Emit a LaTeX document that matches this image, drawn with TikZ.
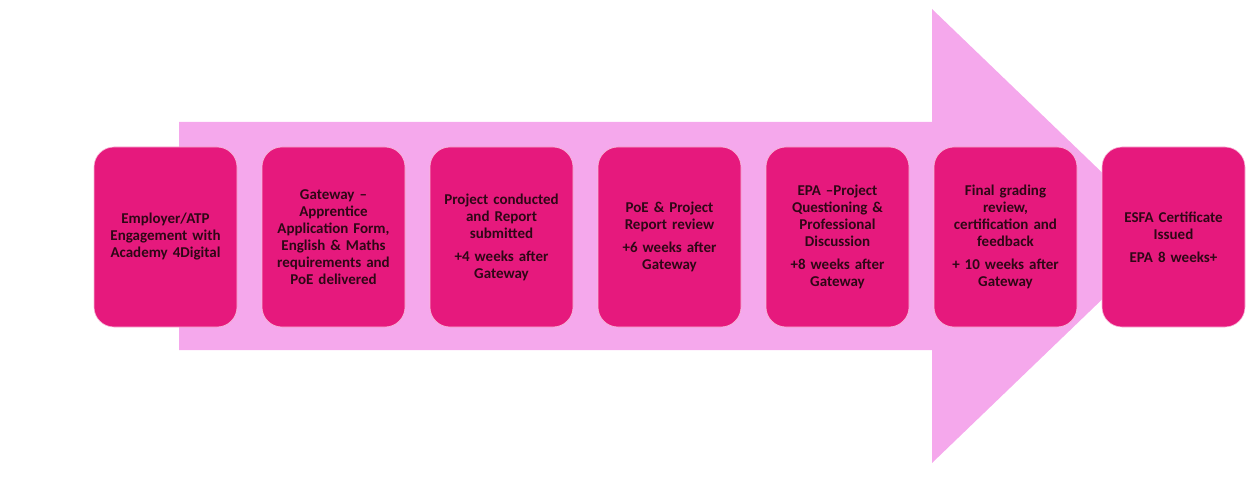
\documentclass[tikz,border=0pt]{standalone}
\usepackage{fontspec}
\setmainfont{Carlito}
\usetikzlibrary{positioning}
\definecolor{arrowpink}{HTML}{F5A8EC}
\definecolor{stepmag}{HTML}{E6197D}
\definecolor{steptxt}{HTML}{2E0716}

\begin{document}
\begin{tikzpicture}[x=1pt, y=-1pt]

  \def\d{168};
  \useasboundingbox (0,0) rectangle (1248,497);

%big arrow
  \fill[arrowpink] (179,122) -- (932,122) -- (932,9) -- (1168,236) -- (932,463) -- (932,350) -- (179,350) -- cycle;

%steps
  \tikzset{stepbox/.style={fill=stepmag, draw=white!70!stepmag, line width=0.6pt, rounded corners=20pt,
      minimum width=143pt, minimum height=180pt, text width=137pt, align=center, inner sep=0pt,
      text=steptxt, font=\fontsize{15}{17}\selectfont\bfseries}};

    \foreach \i/\txt/\name in {
        1/{Employer/ATP\\Engagement with\\Academy 4Digital}/b1,
        2/{Gateway --\\Apprentice\\Application Form,\\English \& Maths\\requirements and\\PoE delivered}/b2,
        3/{Project conducted\\and Report\\submitted\\[6pt]+4 weeks after\\Gateway}/b3,
        4/{PoE \& Project\\Report review\\[6pt]+6 weeks after\\Gateway}/b4,
        5/{EPA --Project\\Questioning \&\\Professional\\Discussion\\[6pt]+8 weeks after\\Gateway}/b5,
        6/{Final grading\\review,\\certification and\\feedback\\[6pt]+ 10 weeks after\\Gateway}/b6,
        7/{ESFA Certificate\\Issued\\[6pt]EPA 8 weeks+\\[8pt]}/b7}{
         \node[stepbox] (\name) at (\i*\d - 2.5, 237) {\txt};
    }

\end{tikzpicture}
\end{document}
